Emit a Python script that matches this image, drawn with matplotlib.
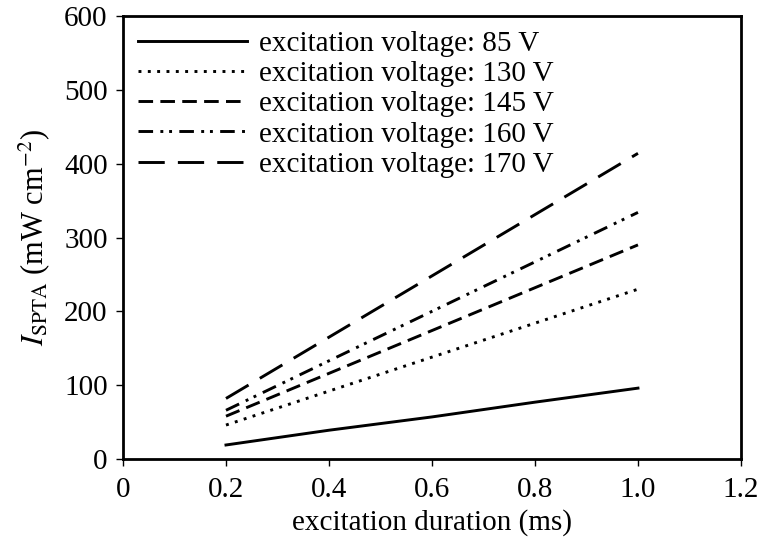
import matplotlib
matplotlib.use("Agg")
import matplotlib.pyplot as plt
from matplotlib.ticker import FixedLocator, FixedFormatter

plt.rcParams["font.family"] = ["Liberation Serif", "DejaVu Serif"]
plt.rcParams["mathtext.fontset"] = "stix"

duration = [0.2, 0.4, 0.6, 0.8, 1.0]
labels = ["excitation voltage: 85 V", "excitation voltage: 130 V",
          "excitation voltage: 145 V", "excitation voltage: 160 V",
          "excitation voltage: 170 V"]
v85 = [19, 39, 57, 77, 96]
v130 = [46, 92, 138, 184, 230]
v145 = [58, 116, 174, 232, 290]
v160 = [66, 133, 200, 267, 334]
v170 = [82, 165, 248, 331, 414]

styles = ["-", (0, (1, 2.2)), (0, (5, 2.5)), (0, (5, 2.5, 1, 2, 1, 2.5)), (0, (9, 4.5))]

fig = plt.figure(figsize=(7.62, 5.42), dpi=100)
ax = fig.add_axes([0.1614, 0.1531, 0.8110, 0.8174])

for vals, lab, ls in zip([v85, v130, v145, v160, v170], labels, styles):
    ax.plot(duration, vals, color="black", linestyle=ls, linewidth=2.1, label=lab,
            dash_capstyle="butt")

ax.set_xlim(0, 1.2)
ax.set_ylim(0, 600)
ax.xaxis.set_major_locator(FixedLocator([0, 0.2, 0.4, 0.6, 0.8, 1.0, 1.2]))
ax.xaxis.set_major_formatter(FixedFormatter(["0", "0.2", "0.4", "0.6", "0.8", "1.0", "1.2"]))
ax.set_yticks([0, 100, 200, 300, 400, 500, 600])
ax.tick_params(direction="out", length=5, width=1, labelsize=21)
ax.tick_params(axis="x", pad=8)
ax.tick_params(axis="y", pad=6)
for sp in ax.spines.values():
    sp.set_linewidth(2.0)

ax.set_xlabel("excitation duration (ms)", fontsize=21, labelpad=4)
ax.set_ylabel(r"$I_{\mathrm{SPTA}}$ (mW cm$^{-2}$)", fontsize=22, labelpad=9)

ax.legend(loc="upper left", frameon=False, fontsize=21, handlelength=3.75,
          handletextpad=0.4, labelspacing=0.13, borderaxespad=0.2, borderpad=0.3)

fig.savefig("out.png", dpi=100)
